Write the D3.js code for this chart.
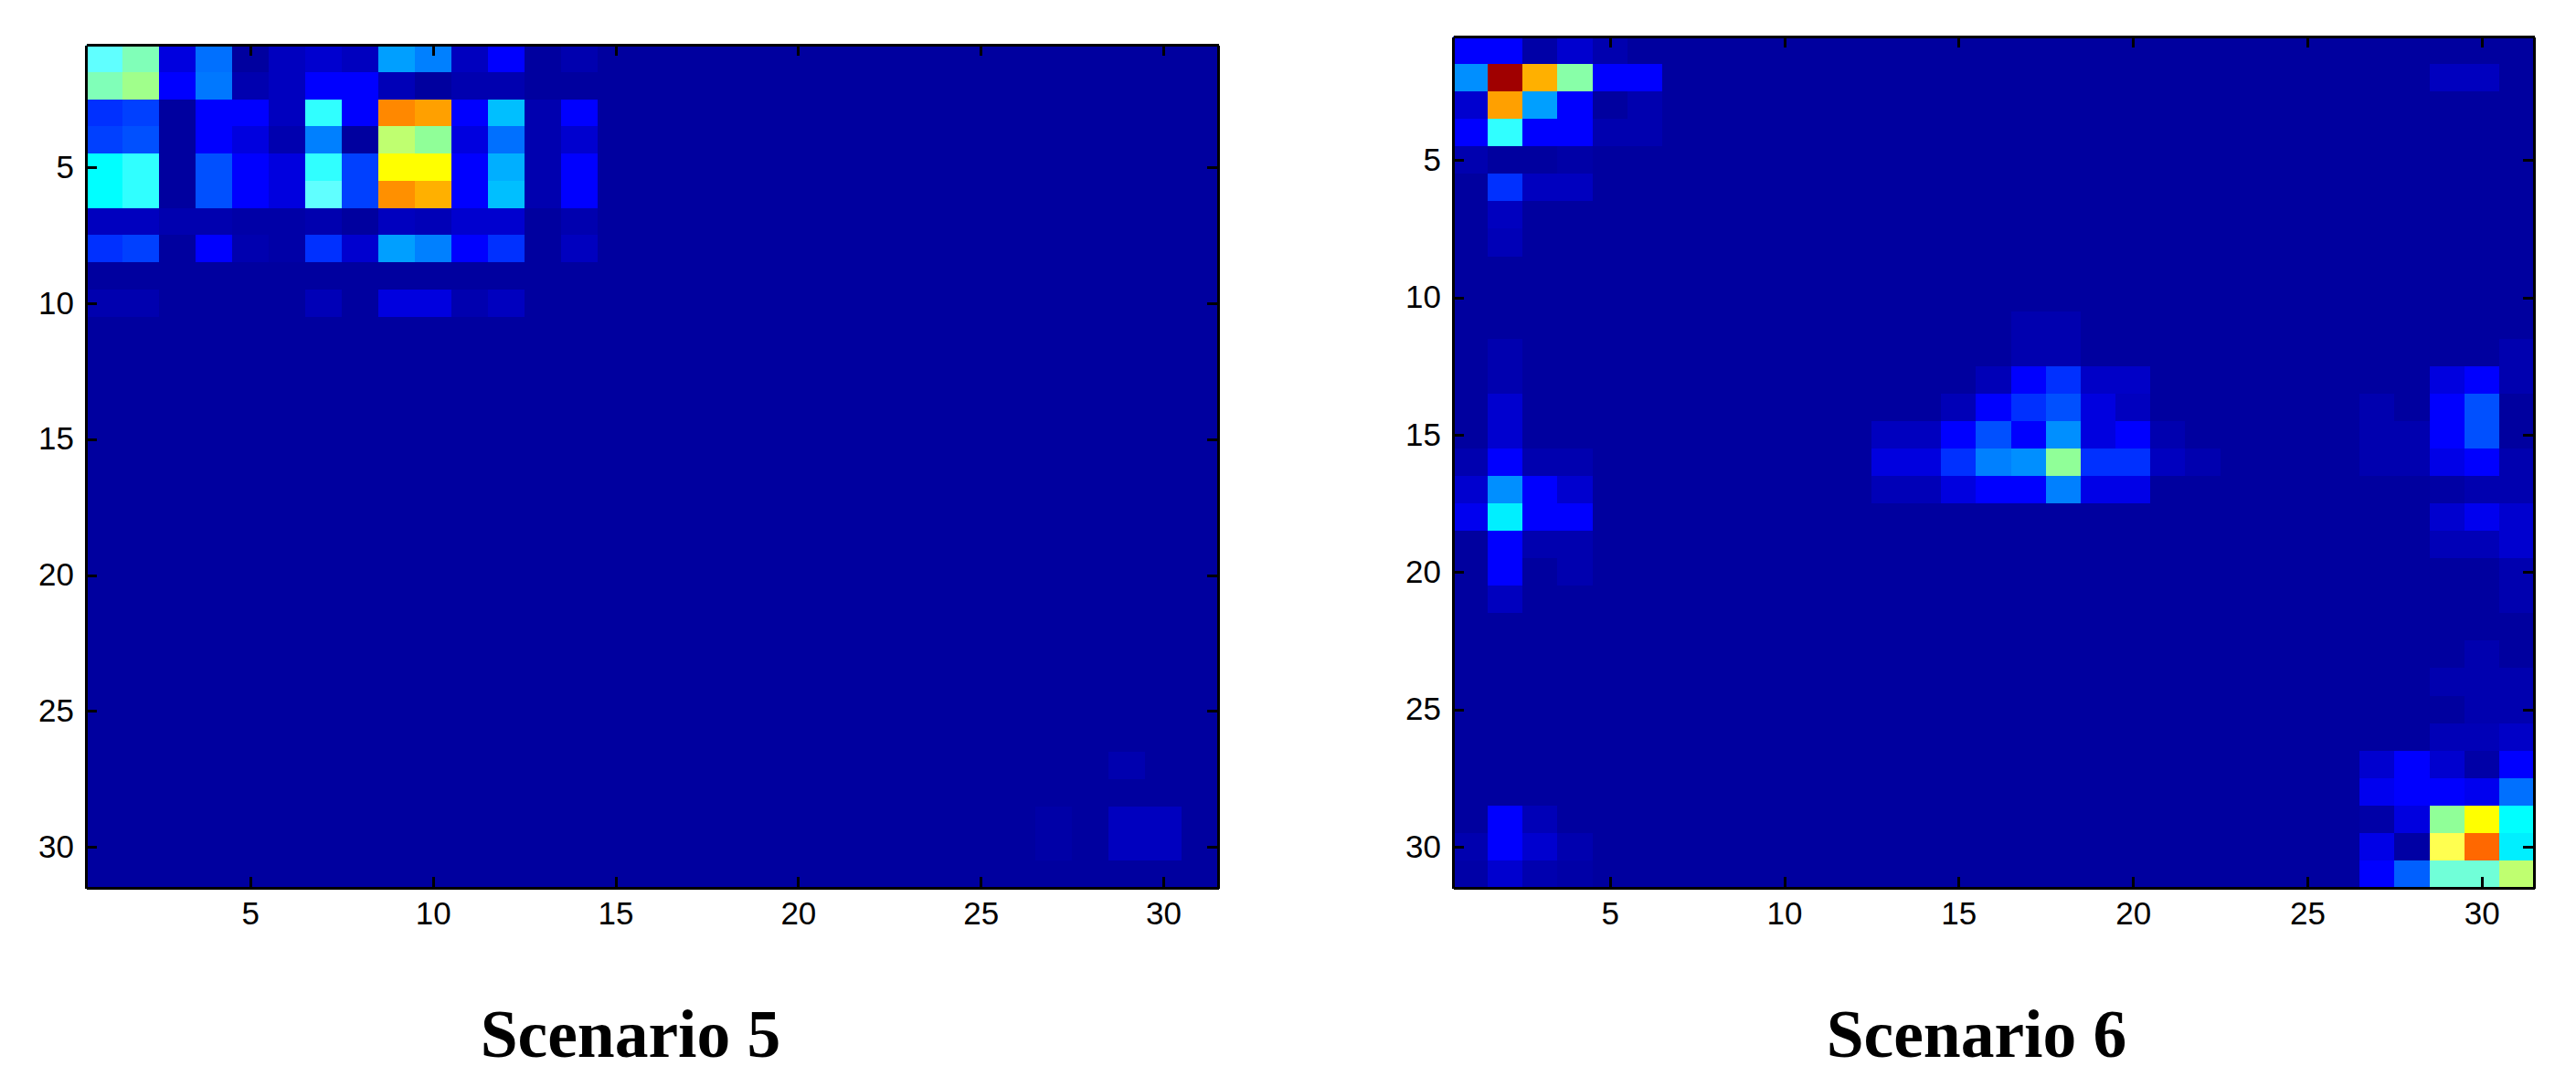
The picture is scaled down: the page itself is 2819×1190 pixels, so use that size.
<!DOCTYPE html>
<html>
<head>
<meta charset="utf-8">
<script src="https://cdn.jsdelivr.net/npm/d3@7"></script>
<style>
  body { margin: 0; background: #fff; }
  .axis text { font-family: "Liberation Sans", sans-serif; font-size: 35px; fill: #000; }
  .axis path, .axis line { stroke: #000; stroke-width: 3px; shape-rendering: crispEdges; }
  .title { font-family: "Liberation Serif", serif; font-weight: bold; font-size: 73.5px; text-anchor: middle; }
</style>
</head>
<body>
<script>
// cell values, as levels of the 64 step colormap
const scenario5 = [
  [30,32,6,15,2,4,5,4,18,16,4,8,2,3,2,2,2,2,2,2,2,2,2,2,2,2,2,2,2,2,2],
  [32,34,8,15.5,3,4,8,8,3.5,2,3,3,2,2,2,2,2,2,2,2,2,2,2,2,2,2,2,2,2,2,2],
  [11,12,2,8,8,4,27,8,47.5,46,8,20,3,8,2,2,2,2,2,2,2,2,2,2,2,2,2,2,2,2,2],
  [12,13,2,8,6,3,16,2,36,33,6,15,3,5,2,2,2,2,2,2,2,2,2,2,2,2,2,2,2,2,2],
  [24,27,2,13,8,6,27,12,40,40,8,19,3,8,2,2,2,2,2,2,2,2,2,2,2,2,2,2,2,2,2],
  [24,27,2,13,8,6,30,12,47,45,8,20,3,8,2,2,2,2,2,2,2,2,2,2,2,2,2,2,2,2,2],
  [4,4,3,3,2.5,2.5,3,2,4,3.5,5,5,2,3,2,2,2,2,2,2,2,2,2,2,2,2,2,2,2,2,2],
  [11,12,2,8,3,2.5,11,5,18,16,8,11,2,4,2,2,2,2,2,2,2,2,2,2,2,2,2,2,2,2,2],
  [2,2,2,2,2,2,2,2,2,2,2,2,2,2,2,2,2,2,2,2,2,2,2,2,2,2,2,2,2,2,2],
  [3,3,2,2,2,2,3.5,2,6,6,3,4,2,2,2,2,2,2,2,2,2,2,2,2,2,2,2,2,2,2,2],
  [2,2,2,2,2,2,2,2,2,2,2,2,2,2,2,2,2,2,2,2,2,2,2,2,2,2,2,2,2,2,2],
  [2,2,2,2,2,2,2,2,2,2,2,2,2,2,2,2,2,2,2,2,2,2,2,2,2,2,2,2,2,2,2],
  [2,2,2,2,2,2,2,2,2,2,2,2,2,2,2,2,2,2,2,2,2,2,2,2,2,2,2,2,2,2,2],
  [2,2,2,2,2,2,2,2,2,2,2,2,2,2,2,2,2,2,2,2,2,2,2,2,2,2,2,2,2,2,2],
  [2,2,2,2,2,2,2,2,2,2,2,2,2,2,2,2,2,2,2,2,2,2,2,2,2,2,2,2,2,2,2],
  [2,2,2,2,2,2,2,2,2,2,2,2,2,2,2,2,2,2,2,2,2,2,2,2,2,2,2,2,2,2,2],
  [2,2,2,2,2,2,2,2,2,2,2,2,2,2,2,2,2,2,2,2,2,2,2,2,2,2,2,2,2,2,2],
  [2,2,2,2,2,2,2,2,2,2,2,2,2,2,2,2,2,2,2,2,2,2,2,2,2,2,2,2,2,2,2],
  [2,2,2,2,2,2,2,2,2,2,2,2,2,2,2,2,2,2,2,2,2,2,2,2,2,2,2,2,2,2,2],
  [2,2,2,2,2,2,2,2,2,2,2,2,2,2,2,2,2,2,2,2,2,2,2,2,2,2,2,2,2,2,2],
  [2,2,2,2,2,2,2,2,2,2,2,2,2,2,2,2,2,2,2,2,2,2,2,2,2,2,2,2,2,2,2],
  [2,2,2,2,2,2,2,2,2,2,2,2,2,2,2,2,2,2,2,2,2,2,2,2,2,2,2,2,2,2,2],
  [2,2,2,2,2,2,2,2,2,2,2,2,2,2,2,2,2,2,2,2,2,2,2,2,2,2,2,2,2,2,2],
  [2,2,2,2,2,2,2,2,2,2,2,2,2,2,2,2,2,2,2,2,2,2,2,2,2,2,2,2,2,2,2],
  [2,2,2,2,2,2,2,2,2,2,2,2,2,2,2,2,2,2,2,2,2,2,2,2,2,2,2,2,2,2,2],
  [2,2,2,2,2,2,2,2,2,2,2,2,2,2,2,2,2,2,2,2,2,2,2,2,2,2,2,2,2,2,2],
  [2,2,2,2,2,2,2,2,2,2,2,2,2,2,2,2,2,2,2,2,2,2,2,2,2,2,2,2,3,2,2],
  [2,2,2,2,2,2,2,2,2,2,2,2,2,2,2,2,2,2,2,2,2,2,2,2,2,2,2,2,2,2,2],
  [2,2,2,2,2,2,2,2,2,2,2,2,2,2,2,2,2,2,2,2,2,2,2,2,2,2,2.5,2,4,4,2],
  [2,2,2,2,2,2,2,2,2,2,2,2,2,2,2,2,2,2,2,2,2,2,2,2,2,2,2.5,2,4,4,2],
  [2,2,2,2,2,2,2,2,2,2,2,2,2,2,2,2,2,2,2,2,2,2,2,2,2,2,2,2,2,2,2]
];

const scenario6 = [
  [8,8,2.5,5,3,2,2,2,2,2,2,2,2,2,2,2,2,2,2,2,2,2,2,2,2,2,2,2,2,2,2],
  [17,62,45,32.5,8,8,2,2,2,2,2,2,2,2,2,2,2,2,2,2,2,2,2,2,2,2,2,2,4,4,2],
  [5,46,18,8,2,3,2,2,2,2,2,2,2,2,2,2,2,2,2,2,2,2,2,2,2,2,2,2,2,2,2],
  [8,27,8,8,3,3,2,2,2,2,2,2,2,2,2,2,2,2,2,2,2,2,2,2,2,2,2,2,2,2,2],
  [3,2,2,2.5,2,2,2,2,2,2,2,2,2,2,2,2,2,2,2,2,2,2,2,2,2,2,2,2,2,2,2],
  [2,11,4,4,2,2,2,2,2,2,2,2,2,2,2,2,2,2,2,2,2,2,2,2,2,2,2,2,2,2,2],
  [2,4,2,2,2,2,2,2,2,2,2,2,2,2,2,2,2,2,2,2,2,2,2,2,2,2,2,2,2,2,2],
  [2,3.5,2,2,2,2,2,2,2,2,2,2,2,2,2,2,2,2,2,2,2,2,2,2,2,2,2,2,2,2,2],
  [2,2,2,2,2,2,2,2,2,2,2,2,2,2,2,2,2,2,2,2,2,2,2,2,2,2,2,2,2,2,2],
  [2,2,2,2,2,2,2,2,2,2,2,2,2,2,2,2,2,2,2,2,2,2,2,2,2,2,2,2,2,2,2],
  [2,2,2,2,2,2,2,2,2,2,2,2,2,2,2,2,3,3,2,2,2,2,2,2,2,2,2,2,2,2,2],
  [2,3,2,2,2,2,2,2,2,2,2,2,2,2,2,2,3,3,2,2,2,2,2,2,2,2,2,2,2,2,3],
  [2,3,2,2,2,2,2,2,2,2,2,2,2,2,2,3.5,8,11,4.5,4.5,2,2,2,2,2,2,2,2,6,8,3],
  [2,5,2,2,2,2,2,2,2,2,2,2,2,2,3.5,8,11,13,6,4,2,2,2,2,2,2,3,2,8,13,2],
  [2,5,2,2,2,2,2,2,2,2,2,2,4,4,8,13,8,17,6,8,3,2,2,2,2,2,3,3,8,13,2],
  [3,8,3,3,2,2,2,2,2,2,2,2,6,6,11,16,17,33,11,11,4,3,2,2,2,2,3,3,6.5,8,3],
  [5,17,8,5,2,2,2,2,2,2,2,2,3.5,3.5,6,8,8,16,6.5,6.5,2,2,2,2,2,2,2,2,2.3,3,3],
  [7,23,8,8,2,2,2,2,2,2,2,2,2,2,2,2,2,2,2,2,2,2,2,2,2,2,2,2,5,7,5],
  [2,8,3,3,2,2,2,2,2,2,2,2,2,2,2,2,2,2,2,2,2,2,2,2,2,2,2,2,3.5,3.5,5],
  [2,8,2,3,2,2,2,2,2,2,2,2,2,2,2,2,2,2,2,2,2,2,2,2,2,2,2,2,2,2,3],
  [2,4,2,2,2,2,2,2,2,2,2,2,2,2,2,2,2,2,2,2,2,2,2,2,2,2,2,2,2,2,3],
  [2,2,2,2,2,2,2,2,2,2,2,2,2,2,2,2,2,2,2,2,2,2,2,2,2,2,2,2,2,2,2],
  [2,2,2,2,2,2,2,2,2,2,2,2,2,2,2,2,2,2,2,2,2,2,2,2,2,2,2,2,2,3,2],
  [2,2,2,2,2,2,2,2,2,2,2,2,2,2,2,2,2,2,2,2,2,2,2,2,2,2,2,2,3,3,3],
  [2,2,2,2,2,2,2,2,2,2,2,2,2,2,2,2,2,2,2,2,2,2,2,2,2,2,2,2,2,3,3],
  [2,2,2,2,2,2,2,2,2,2,2,2,2,2,2,2,2,2,2,2,2,2,2,2,2,2,2,2,3.5,3.5,4.5],
  [2,2,2,2,2,2,2,2,2,2,2,2,2,2,2,2,2,2,2,2,2,2,2,2,2,2,5,8,5,2.5,8],
  [2,2,2,2,2,2,2,2,2,2,2,2,2,2,2,2,2,2,2,2,2,2,2,2,2,2,7,8,8,7,15],
  [2,8,3.5,2,2,2,2,2,2,2,2,2,2,2,2,2,2,2,2,2,2,2,2,2,2,2,2.5,6,33,40,24],
  [3,8,5,3,2,2,2,2,2,2,2,2,2,2,2,2,2,2,2,2,2,2,2,2,2,2,6.5,2.3,39,49.5,23],
  [2.5,5,3,2.5,2,2,2,2,2,2,2,2,2,2,2,2,2,2,2,2,2,2,2,2,2,2,8,14,31,31,36]
];

const tickValuesX = [5, 10, 15, 20, 25, 30];
const tickValuesY = [5, 10, 15, 20, 25, 30];
const titles = ['Scenario 5', 'Scenario 6'];

// colormap is jet with the lighter cyan to yellow part seen in the picture
const colorLevels = [1, 8, 24, 30, 31, 33, 36, 39, 40, 48, 56, 64];
const colorStops = ['#00008f', '#0000ff', '#00ffff', '#60ffff', '#70ffd8', '#90ff98', '#bfff70', '#ffff50', '#ffff00', '#ff8000', '#ff0000', '#800000'];
const color = d3.scaleLinear().domain(colorLevels).range(colorStops);

const svg = d3.select('body')
  .append('svg')
  .attr('width', 2819)
  .attr('height', 1190);

function drawHeatmap(matrix, title, box) {
  const xScale = d3.scaleLinear().domain([0.5, 31.5]).range([box.left, box.right]);
  const yScale = d3.scaleLinear().domain([0.5, 31.5]).range([box.top, box.bottom]);

  const cells = matrix.flatMap((row, r) => row.map((v, c) => ({ row: r + 1, col: c + 1, value: v })));

  svg.append('g')
    .selectAll('rect')
    .data(cells)
    .join('rect')
    .attr('x', d => xScale(d.col - 0.5))
    .attr('y', d => yScale(d.row - 0.5))
    .attr('width', d => xScale(d.col + 0.5) - xScale(d.col - 0.5) + 0.5)
    .attr('height', d => yScale(d.row + 0.5) - yScale(d.row - 0.5) + 0.5)
    .attr('fill', d => color(d.value))
    .attr('shape-rendering', 'crispEdges');

  // ticks point inward on all four sides, labels only left and bottom
  const tickLen = 12;
  svg.append('g').attr('class', 'axis')
    .attr('transform', `translate(0, ${box.bottom})`)
    .call(d3.axisBottom(xScale).tickValues(tickValuesX).tickSizeInner(-tickLen).tickSizeOuter(0).tickPadding(15))
    .selectAll('text').attr('dy', '0.71em');
  svg.append('g').attr('class', 'axis')
    .attr('transform', `translate(0, ${box.top})`)
    .call(d3.axisTop(xScale).tickValues(tickValuesX).tickSizeInner(-tickLen).tickSizeOuter(0).tickFormat(''));
  svg.append('g').attr('class', 'axis')
    .attr('transform', `translate(${box.left}, 0)`)
    .call(d3.axisLeft(yScale).tickValues(tickValuesY).tickSizeInner(-tickLen).tickSizeOuter(0).tickPadding(13));
  svg.append('g').attr('class', 'axis')
    .attr('transform', `translate(${box.right}, 0)`)
    .call(d3.axisRight(yScale).tickValues(tickValuesY).tickSizeInner(-tickLen).tickSizeOuter(0).tickFormat(''));

  svg.append('text')
    .attr('class', 'title')
    .attr('x', box.titleX)
    .attr('y', 1157)
    .text(title);
}

drawHeatmap(scenario5, titles[0], { left: 94, right: 1333, top: 49, bottom: 972, titleX: 690 });
drawHeatmap(scenario6, titles[1], { left: 1590, right: 2773, top: 40, bottom: 972, titleX: 2163 });
</script>
</body>
</html>
